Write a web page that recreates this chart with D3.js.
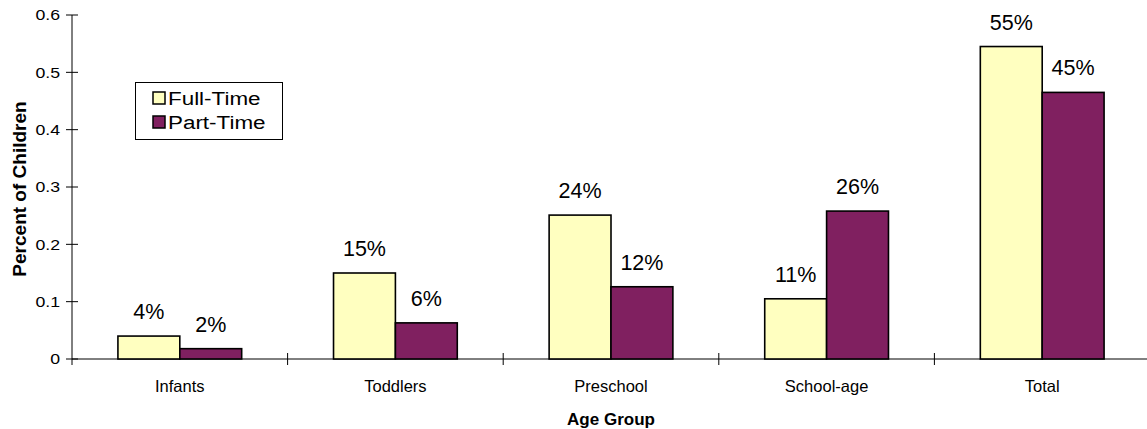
<!DOCTYPE html>
<html>
<head>
<meta charset="utf-8">
<script src="https://cdn.jsdelivr.net/npm/d3@7"></script>
<style>
html,body{margin:0;padding:0;background:#fff;}
svg{display:block;font-family:"Liberation Sans",Arial,sans-serif;}
</style>
</head>
<body>
<svg id="chart" width="1147" height="429"></svg>
<script>
const categories = ["Infants","Toddlers","Preschool","School-age","Total"];
const seriesNames = ["Full-Time","Part-Time"];
const fullTime = [0.04, 0.15, 0.251, 0.105, 0.545];
const partTime = [0.018, 0.063, 0.126, 0.258, 0.465];
const fullLabels = ["4%","15%","24%","11%","55%"];
const partLabels = ["2%","6%","12%","26%","45%"];
const yTicks = [0,0.1,0.2,0.3,0.4,0.5,0.6];
const yTickLabels = ["0","0.1","0.2","0.3","0.4","0.5","0.6"];
const colors = ["#FFFFC0","#802060"];

(function(){
const svg = d3.select("#chart");
const mLeft = 72, mRight = 1150, mTop = 15, mBottom = 359;
const x = d3.scaleBand().domain(categories).range([mLeft, mRight]).padding(0);
const y = d3.scaleLinear().domain([0,0.6]).range([mBottom, mTop]);
const barW = x.bandwidth() * 0.287;

// axes
svg.append("line").attr("x1", mLeft).attr("x2", 1147).attr("y1", y(0)).attr("y2", y(0))
  .attr("stroke","#000").attr("stroke-width",1);
svg.append("line").attr("x1", mLeft).attr("x2", mLeft).attr("y1", y(0.6)).attr("y2", y(0)+6)
  .attr("stroke","#000").attr("stroke-width",1);

const yAxis = svg.append("g");
yTicks.forEach((t,i)=>{
  yAxis.append("line").attr("x1", mLeft-6).attr("x2", mLeft+6).attr("y1", y(t)).attr("y2", y(t))
    .attr("stroke","#000").attr("stroke-width",1);
  yAxis.append("text").attr("transform", `translate(${mLeft-12},${y(t)}) scale(1.18,1)`)
    .attr("dy","0.36em")
    .attr("text-anchor","end").attr("font-size",15).text(yTickLabels[i]);
});

categories.forEach((c,i)=>{
  if(i>0){
    svg.append("line").attr("x1", x(c)).attr("x2", x(c)).attr("y1", y(0)-6).attr("y2", y(0)+6)
      .attr("stroke","#000").attr("stroke-width",1);
  }
  svg.append("text").attr("x", x(c)+x.bandwidth()/2).attr("y", 391.5)
    .attr("text-anchor","middle").attr("font-size",16.5).text(c);
});

// bars
const series = [fullTime, partTime];
const labels = [fullLabels, partLabels];
series.forEach((vals, s)=>{
  const g = svg.append("g");
  g.selectAll("rect").data(vals).join("rect")
    .attr("x",(d,i)=> x(categories[i]) + x.bandwidth()/2 - barW + s*barW)
    .attr("y", d=> y(d))
    .attr("width", barW)
    .attr("height", d=> y(0)-y(d))
    .attr("fill", colors[s]).attr("stroke","#000").attr("stroke-width",1.6);
  g.selectAll("text").data(vals).join("text")
    .attr("x",(d,i)=> x(categories[i]) + x.bandwidth()/2 - barW/2 + s*barW)
    .attr("y", d=> y(d) - 17)
    .attr("text-anchor","middle").attr("font-size",21.5)
    .text((d,i)=> labels[s][i]);
});

// axis titles
svg.append("text").attr("x", (mLeft+mRight)/2).attr("y", 424.5)
  .attr("text-anchor","middle").attr("font-size",17).attr("font-weight","bold").text("Age Group");
svg.append("text").attr("transform", `translate(26,189) rotate(-90)`)
  .attr("text-anchor","middle").attr("font-size",19).attr("font-weight","bold").text("Percent of Children");

// legend
const lg = svg.append("g");
lg.append("rect").attr("x",135.5).attr("y",82.5).attr("width",147).attr("height",57)
  .attr("fill","#fff").attr("stroke","#000").attr("stroke-width",1);
seriesNames.forEach((n,i)=>{
  lg.append("rect").attr("x",153).attr("y",92+i*24).attr("width",12).attr("height",12)
    .attr("fill",colors[i]).attr("stroke","#000").attr("stroke-width",1.5);
  lg.append("text").attr("transform", `translate(168,${104.5+i*24}) scale(1.18,1)`)
    .attr("font-size",19).text(n);
});
})();
</script>
</body>
</html>
